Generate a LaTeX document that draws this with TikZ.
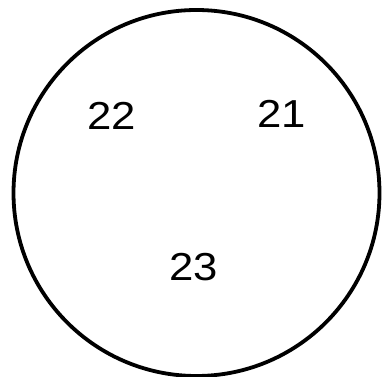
\documentclass[tikz,border=0pt]{standalone}
\usepackage{fontspec}
\setmainfont{Liberation Sans}
\begin{document}
\begin{tikzpicture}[x=1pt,y=1pt,
  numlabel/.style={font=\fontsize{39}{41}\selectfont, inner sep=0pt}]
\useasboundingbox (0,0) rectangle (383,377);
\node[draw, circle, line width=3.8pt, minimum size=366pt, inner sep=0pt] (c) at (196.5,184) {};
\begin{scope}[xscale=1.12]
\node[numlabel, transform shape] (n22) at (112/1.12,261) {22};
\node[numlabel, transform shape] (n21) at (282/1.12,263) {21};
\node[numlabel, transform shape] (n23) at (194/1.12,110) {23};
\end{scope}
\end{tikzpicture}
\end{document}
